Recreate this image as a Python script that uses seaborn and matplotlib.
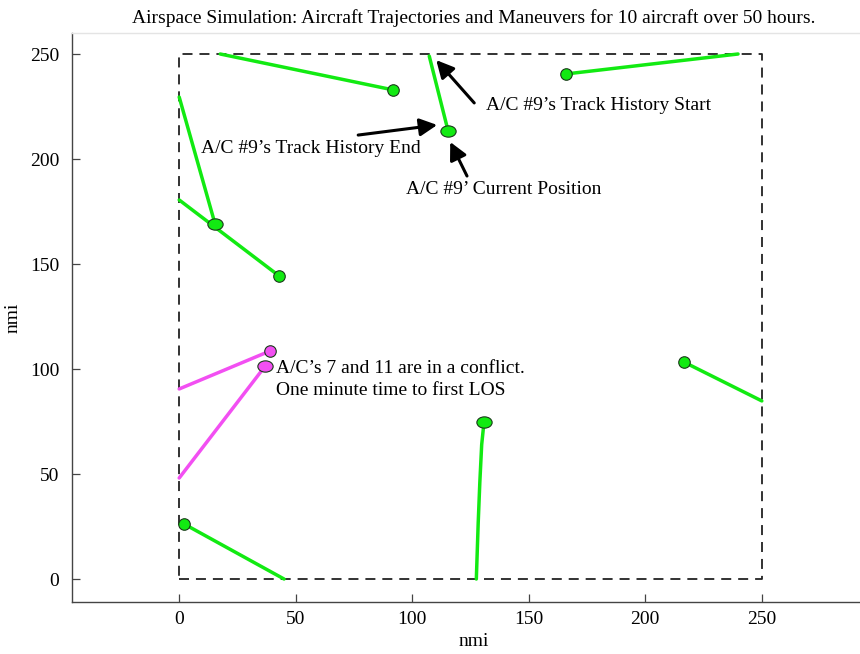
import numpy as np
import pandas as pd
import matplotlib
matplotlib.use("Agg")
import matplotlib.pyplot as plt
from matplotlib.path import Path
from matplotlib.transforms import Affine2D
import seaborn as sns

# Track histories (nmi). The last point of each track is the current position.
ac_ids = ["AC1", "AC2", "AC3", "AC9", "AC5", "AC6", "AC7", "AC11", "AC8", "AC10"]
track_x = [
    [17.6, 91.8],
    [0.0, 15.4],
    [0.0, 42.9],
    [107.3, 115.4],
    [239.8, 166.0],
    [250.0, 216.6],
    [0.0, 39.0],
    [0.0, 36.9],
    [127.5, 128.3, 129.0, 129.8, 130.8],
    [45.0, 2.1],
]
track_y = [
    [250.0, 232.9],
    [229.5, 169.0],
    [180.5, 144.3],
    [249.0, 213.3],
    [250.0, 240.5],
    [84.8, 103.3],
    [90.5, 108.6],
    [48.1, 101.4],
    [0.0, 26.7, 46.0, 64.0, 74.8],
    [0.0, 26.2],
]
in_conflict = [False, False, False, False, False, False, True, True, False, False]
oval_marker = [False, True, False, True, False, False, False, True, True, False]

# Airspace boundary
sector_x = [0, 250, 250, 0, 0]
sector_y = [0, 0, 250, 250, 0]

title = "Airspace Simulation: Aircraft Trajectories and Maneuvers for 10 aircraft over 50 hours."

# Annotation text: (label, text position, arrow tail, arrow tip)
notes = [
    ("A/C #9\u2019s Track History Start", (131.7, 225.7), (126.6, 226.7), (110.3, 247.1)),
    ("A/C #9\u2019s Track History End", (9.4, 205.2), (76.8, 211.4), (110.7, 216.2)),
    ("A/C #9\u2019 Current Position", (97.4, 185.7), (123.5, 191.9), (116.3, 208.1)),
]
conflict_note = "A/C\u2019s 7 and 11 are in a conflict.\nOne minute time to first LOS"
conflict_pos = (41.6, 95.0)

GREEN = "#12ea12"
MAGENTA = "#f24ff2"

sns.set_theme(style="white")
plt.rcParams["font.family"] = ["Liberation Serif", "DejaVu Serif"]
plt.rcParams["lines.scale_dashes"] = False
plt.rcParams["text.color"] = "black"
plt.rcParams["axes.labelcolor"] = "black"

rows = []
for ac, xs, ys, conf in zip(ac_ids, track_x, track_y, in_conflict):
    for i, (x, y) in enumerate(zip(xs, ys)):
        rows.append({"ac": ac, "step": i, "x": x, "y": y,
                     "state": "conflict" if conf else "normal"})
tracks = pd.DataFrame(rows)

fig = plt.figure(figsize=(8.6, 6.54), dpi=100)
ax = fig.add_axes([72 / 860, (654 - 601.7) / 654, (876 - 72) / 860, (601.7 - 33) / 654])

# Sector boundary
ax.plot(sector_x, sector_y, color="#222222", lw=1.3, dashes=(7.2, 5.0), zorder=1)

# Trajectories
sns.lineplot(data=tracks, x="x", y="y", units="ac", hue="state", estimator=None,
             sort=False, palette={"normal": GREEN, "conflict": MAGENTA},
             lw=2.5, legend=False, ax=ax, zorder=2)

# Current positions
oval = Path.unit_circle().transformed(Affine2D().scale(1.0, 0.74))
last = tracks.groupby("ac", sort=False).tail(1).set_index("ac").loc[ac_ids].reset_index()
for (_, r), is_oval in zip(last.iterrows(), oval_marker):
    color = MAGENTA if r["state"] == "conflict" else GREEN
    if is_oval:
        ax.plot(r["x"], r["y"], marker=oval, ms=11, mfc=color, mec="#1a3a1a",
                mew=0.8, ls="none", zorder=3)
    else:
        ax.plot(r["x"], r["y"], marker="o", ms=8.3, mfc=color, mec="#1a3a1a",
                mew=0.8, ls="none", zorder=3)

# Annotations
for label, tpos, tail, tip in notes:
    ax.text(tpos[0], tpos[1], label, fontsize=14, ha="left", va="center", zorder=4)
    ax.annotate("", xy=tip, xytext=tail,
                arrowprops=dict(arrowstyle="-|>,head_length=0.75,head_width=0.38",
                                mutation_scale=14, lw=2.2, color="black",
                                shrinkA=0, shrinkB=0), zorder=4)
ax.text(conflict_pos[0], conflict_pos[1], conflict_note, fontsize=14,
        ha="left", va="center", linespacing=1.32, zorder=4)

ax.set_xlim(-46, 299)
ax.set_ylim(-10.8, 260)
ax.set_xticks([0, 50, 100, 150, 200, 250])
ax.set_yticks([0, 50, 100, 150, 200, 250])
ax.tick_params(direction="in", length=6, width=0.9, color="#444444",
               labelsize=14, labelcolor="black", bottom=True, left=True)
ax.tick_params(axis="x", pad=7)
ax.tick_params(axis="y", pad=9)
for side in ["left", "bottom"]:
    ax.spines[side].set_color("#444444")
    ax.spines[side].set_linewidth(1.0)
ax.spines["top"].set_color("#e4e4e4")
ax.spines["top"].set_linewidth(1.0)
ax.spines["right"].set_visible(False)

ax.set_xlabel("nmi", fontsize=14, labelpad=3)
ax.set_ylabel("nmi", fontsize=14, labelpad=6)
ax.set_title(title, fontsize=14, pad=7)

fig.savefig("out.png", dpi=100)
